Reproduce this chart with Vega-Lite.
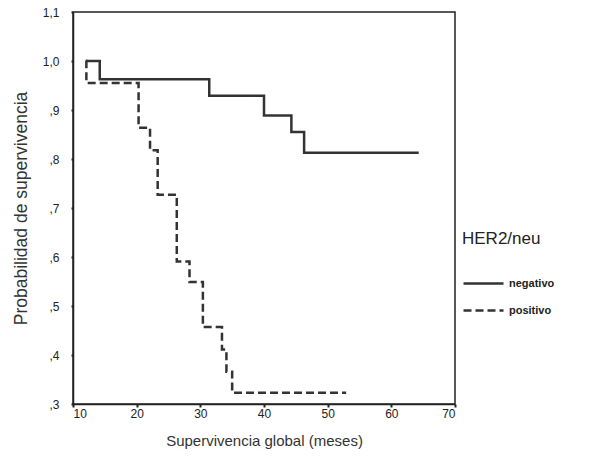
{
  "$schema": "https://vega.github.io/schema/vega-lite/v6.json",
  "width": 382,
  "height": 392,
  "autosize": {"type": "none"},
  "padding": {"left": 73, "top": 12, "right": 140, "bottom": 67},
  "background": "white",
  "config": {
    "view": {"stroke": "#222", "strokeWidth": 1.5},
    "font": "Liberation Sans"
  },
  "data": {
    "values": [
      {"grupo": "negativo", "t": 12.0, "s": 1.0},
      {"grupo": "negativo", "t": 14.2, "s": 0.963},
      {"grupo": "negativo", "t": 31.4, "s": 0.929},
      {"grupo": "negativo", "t": 40.0, "s": 0.889},
      {"grupo": "negativo", "t": 44.3, "s": 0.855},
      {"grupo": "negativo", "t": 46.3, "s": 0.813},
      {"grupo": "negativo", "t": 64.3, "s": 0.813},
      {"grupo": "positivo", "t": 12.0, "s": 1.0},
      {"grupo": "positivo", "t": 12.1, "s": 0.955},
      {"grupo": "positivo", "t": 20.3, "s": 0.864},
      {"grupo": "positivo", "t": 22.1, "s": 0.818},
      {"grupo": "positivo", "t": 23.3, "s": 0.727},
      {"grupo": "positivo", "t": 26.3, "s": 0.591},
      {"grupo": "positivo", "t": 28.3, "s": 0.549},
      {"grupo": "positivo", "t": 30.4, "s": 0.457},
      {"grupo": "positivo", "t": 33.4, "s": 0.411},
      {"grupo": "positivo", "t": 34.1, "s": 0.366},
      {"grupo": "positivo", "t": 35.0, "s": 0.323},
      {"grupo": "positivo", "t": 52.9, "s": 0.323}
    ]
  },
  "mark": {"type": "line", "interpolate": "step-after", "color": "#333", "strokeWidth": 2.5, "clip": true},
  "encoding": {
    "x": {
      "field": "t", "type": "quantitative",
      "scale": {"domain": [10, 70], "nice": false, "zero": false},
      "axis": {
        "values": [10, 20, 30, 40, 50, 60, 70],
        "title": "Supervivencia global (meses)",
        "titleFont": "Liberation Sans", "titleFontSize": 15, "titleFontWeight": "normal", "titleColor": "#333",
        "titlePadding": 14,
        "labelFontSize": 12, "labelColor": "#222", "labelPadding": 1,
        "domainColor": "#222", "domainWidth": 1.5,
        "tickColor": "#222", "tickSize": 3, "tickWidth": 2,
        "grid": false
      }
    },
    "y": {
      "field": "s", "type": "quantitative",
      "scale": {"domain": [0.3, 1.1], "nice": false, "zero": false},
      "axis": {
        "values": [0.3, 0.4, 0.5, 0.6, 0.7, 0.8, 0.9, 1.0, 1.1],
        "labelExpr": "datum.value >= 0.99 ? replace(format(datum.value, '.1f'), '.', ',') : replace(format(datum.value, '.1f'), '0.', ',')",
        "title": "Probabilidad de supervivencia",
        "titleFont": "Liberation Sans", "titleFontSize": 17.5, "titleFontWeight": "normal", "titleColor": "#333",
        "titlePadding": 12,
        "labelFontSize": 12, "labelColor": "#222", "labelPadding": 12,
        "domainColor": "#222", "domainWidth": 1.5,
        "tickColor": "#222", "tickSize": 2, "tickWidth": 2,
        "grid": false
      }
    },
    "strokeDash": {
      "field": "grupo", "type": "nominal",
      "scale": {"domain": ["negativo", "positivo"], "range": [[1, 0], [8, 4]]},
      "legend": {
        "title": "HER2/neu",
        "orient": "none",
        "legendX": 389,
        "legendY": 219,
        "titleFont": "Liberation Sans", "titleFontSize": 17, "titleFontWeight": "normal", "titleColor": "#222",
        "titlePadding": 14,
        "labelFont": "Liberation Sans", "labelFontSize": 11, "labelFontWeight": "bold", "labelColor": "#222",
        "symbolType": "stroke", "symbolSize": 1600, "symbolStrokeWidth": 2.5, "symbolStrokeColor": "#333",
        "rowPadding": 0
      }
    }
  }
}
